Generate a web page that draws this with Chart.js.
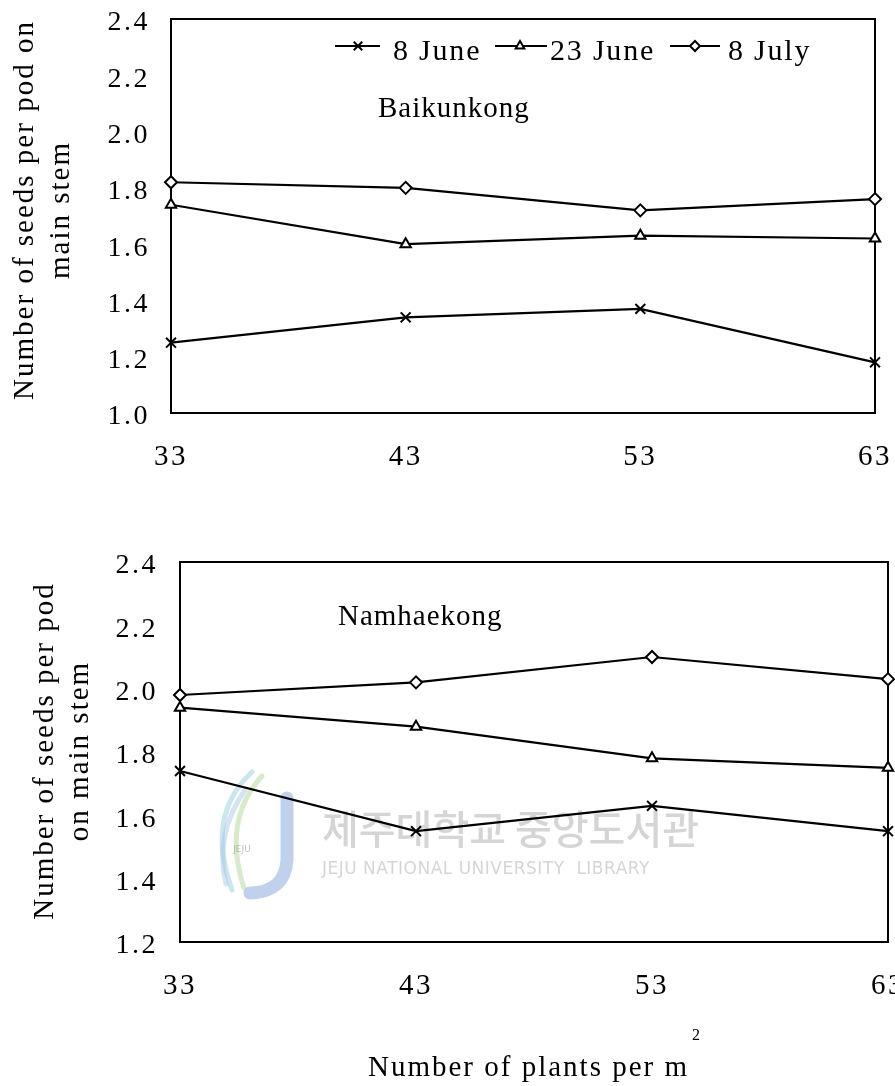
<!DOCTYPE html>
<html><head><meta charset="utf-8">
<script src="https://cdn.jsdelivr.net/npm/chart.js@4"></script>
<style>
html,body{margin:0;padding:0;background:#fff;overflow:hidden;width:895px;height:1086px;}
canvas{position:absolute;left:0;}
#c1{top:0;} #c2{top:480px;}
</style></head><body>
<canvas id="c1" width="920" height="480"></canvas>
<canvas id="c2" width="920" height="606"></canvas>
<script>
// ---- data ----
const density = [33, 43, 53, 63];
const xTicks = [33, 43, 53, 63];
const seriesNames = ['8 June', '23 June', '8 July'];
const baikJune8  = [1.25, 1.34, 1.37, 1.18];
const baikJune23 = [1.74, 1.60, 1.63, 1.62];
const baikJuly8  = [1.82, 1.80, 1.72, 1.76];
const namJune8   = [1.74, 1.55, 1.63, 1.55];
const namJune23  = [1.94, 1.88, 1.78, 1.75];
const namJuly8   = [1.98, 2.02, 2.10, 2.03];
const yTicksTop    = [1.0, 1.2, 1.4, 1.6, 1.8, 2.0, 2.2, 2.4];
const yTicksBottom = [1.2, 1.4, 1.6, 1.8, 2.0, 2.2, 2.4];
const cultivarTop = 'Baikunkong';
const cultivarBottom = 'Namhaekong';
const yTitleTop = ['Number of seeds per pod on', 'main stem'];
const yTitleBottom = ['Number of seeds per pod', 'on main stem'];
const xTitle = 'Number of plants per m';

// ---- style ----
const FONT = '"Liberation Serif", "DejaVu Serif", serif';
const markers = ['crossRot', 'triangle', 'rectRot'];
const radii = [7, 6, 6];

function setSpacing(ctx, px) { if ('letterSpacing' in ctx) ctx.letterSpacing = px + 'px'; }
function drawText(ctx, s, x, y, o) {
  ctx.save();
  ctx.font = (o.weight || 'normal') + ' ' + o.size + 'px ' + (o.family || FONT);
  ctx.fillStyle = o.color || '#000';
  ctx.textAlign = o.align || 'left';
  ctx.textBaseline = o.baseline || 'alphabetic';
  setSpacing(ctx, o.spacing || 0);
  if (o.rotate) { ctx.translate(x, y); ctx.rotate(o.rotate); ctx.fillText(s, 0, 0); }
  else ctx.fillText(s, x, y);
  ctx.restore();
}

function drawWatermark(ctx, dy) {
  ctx.save();
  ctx.translate(0, -dy);
  ctx.lineCap = 'round';
  ctx.lineWidth = 5; ctx.strokeStyle = 'rgba(150,205,225,0.5)';
  ctx.beginPath(); ctx.moveTo(252, 772); ctx.quadraticCurveTo(205, 815, 232, 890); ctx.stroke();
  ctx.strokeStyle = 'rgba(175,215,150,0.5)';
  ctx.beginPath(); ctx.moveTo(262, 776); ctx.quadraticCurveTo(222, 820, 244, 888); ctx.stroke();
  ctx.strokeStyle = 'rgba(160,195,230,0.45)';
  ctx.beginPath(); ctx.moveTo(245, 790); ctx.quadraticCurveTo(214, 835, 226, 884); ctx.stroke();
  ctx.lineWidth = 13; ctx.strokeStyle = 'rgba(165,190,228,0.7)';
  ctx.beginPath(); ctx.moveTo(287, 798); ctx.lineTo(287, 860); ctx.quadraticCurveTo(285, 892, 250, 893); ctx.stroke();
  ctx.restore();
  drawText(ctx, 'JEJU', 242, 850 - dy, {size: 9, color: 'rgba(150,150,150,0.6)', family: '"DejaVu Sans", sans-serif', align: 'center', baseline: 'middle'});
  drawText(ctx, '제주대학교 중앙도서관', 322, 829 - dy, {size: 40, color: 'rgba(185,185,185,0.6)', family: '"Noto Sans CJK KR", sans-serif', weight: '500', baseline: 'middle'});
  drawText(ctx, 'JEJU NATIONAL UNIVERSITY  LIBRARY', 322, 870 - dy, {size: 17, color: 'rgba(185,185,185,0.6)', family: '"DejaVu Sans", sans-serif', baseline: 'middle', spacing: 0.5});
}

const decor = {
  id: 'decor',
  beforeDraw(chart) { setSpacing(chart.ctx, 2.5); },
  beforeDatasetsDraw(chart, args, opts) {
    const ctx = chart.ctx, a = chart.chartArea;
    if (opts.watermark) drawWatermark(ctx, opts.dy);
    ctx.save();
    ctx.strokeStyle = '#000'; ctx.lineWidth = 2;
    ctx.beginPath(); ctx.moveTo(a.left, a.top); ctx.lineTo(a.right, a.top); ctx.lineTo(a.right, a.bottom); ctx.stroke();
    ctx.restore();
  },
  afterDraw(chart, args, opts) {
    const ctx = chart.ctx;
    opts.yTitle.forEach((line, i) => drawText(ctx, line, opts.yTitleX[i], opts.yTitleY,
      {size: 29, spacing: 2, align: 'center', baseline: 'middle', rotate: -Math.PI / 2}));
    drawText(ctx, opts.label, opts.labelX, opts.labelY, {size: 29, spacing: 1});
    if (opts.legend) {
      const items = [{x0: 335, x1: 380, mx: 358, tx: 393}, {x0: 495, x1: 547, mx: 520, tx: 550}, {x0: 670, x1: 720, mx: 695, tx: 728}];
      const ly = 46;
      items.forEach((it, i) => {
        const ds = chart.data.datasets[i];
        ctx.save();
        ctx.strokeStyle = '#000'; ctx.lineWidth = 2;
        ctx.beginPath(); ctx.moveTo(it.x0, ly); ctx.lineTo(it.x1, ly); ctx.stroke();
        ctx.fillStyle = '#fff'; ctx.strokeStyle = '#000'; ctx.lineWidth = 2;
        Chart.helpers.drawPoint(ctx, {pointStyle: ds.pointStyle, radius: ds.pointRadius - 1, rotation: 0, borderWidth: 2}, it.mx, ly);
        ctx.restore();
        drawText(ctx, ds.label, it.tx, 60, {size: 30, spacing: 1.8});
      });
    }
    if (opts.xTitle) {
      drawText(ctx, opts.xTitle, 368, 1076 - opts.dy, {size: 29, spacing: 2});
      drawText(ctx, '2', 692, 1040 - opts.dy, {size: 16});
    }
  }
};

function makeChart(id, sets, yTicks, geom, decorOpts) {
  return new Chart(document.getElementById(id), {
    type: 'line',
    data: {
      datasets: sets.map((vals, i) => ({
        label: seriesNames[i],
        data: density.map((x, j) => ({x: x, y: vals[j]})),
        borderColor: '#000', borderWidth: 2.2,
        pointStyle: markers[i], pointRadius: radii[i], pointBorderWidth: 2,
        pointBackgroundColor: '#fff', pointBorderColor: '#000',
        tension: 0, clip: false, fill: false
      }))
    },
    options: {
      responsive: false, animation: false, devicePixelRatio: 1,
      layout: {padding: {left: 0, top: geom.top, right: geom.right, bottom: 0}},
      plugins: {legend: {display: false}, tooltip: {enabled: false}, decor: decorOpts},
      scales: {
        x: {
          type: 'linear', min: xTicks[0], max: xTicks[xTicks.length - 1],
          afterBuildTicks: s => { s.ticks = xTicks.map(v => ({value: v})); },
          afterFit: s => { s.height = geom.xh; s.paddingLeft = 0; s.paddingRight = 0; },
          grid: {display: false, drawTicks: false},
          border: {display: true, color: '#000', width: 2},
          ticks: {color: '#000', font: {family: FONT, size: 29}, padding: 27, maxRotation: 0, autoSkip: false, callback: v => String(v)}
        },
        y: {
          type: 'linear', min: yTicks[0], max: yTicks[yTicks.length - 1],
          afterBuildTicks: s => { s.ticks = yTicks.map(v => ({value: v})); },
          afterFit: s => { s.width = geom.left; s.paddingTop = 0; s.paddingBottom = 0; },
          grid: {display: false, drawTicks: false},
          border: {display: true, color: '#000', width: 2},
          ticks: {color: '#000', font: {family: FONT, size: 28}, padding: geom.tp, labelOffset: 4, autoSkip: false, callback: v => Number(v).toFixed(1)}
        }
      }
    },
    plugins: [decor]
  });
}

makeChart('c1', [baikJune8, baikJune23, baikJuly8], yTicksTop,
  {left: 171, top: 19, right: 45, xh: 67, tp: 21},
  {yTitle: yTitleTop, yTitleX: [25, 61], yTitleY: 210, label: cultivarTop, labelX: 378, labelY: 117, legend: true, dy: 0});

makeChart('c2', [namJune8, namJune23, namJuly8], yTicksBottom,
  {left: 180, top: 82, right: 32, xh: 144, tp: 22},
  {yTitle: yTitleBottom, yTitleX: [45, 80], yTitleY: 271, label: cultivarBottom, labelX: 338, labelY: 145, xTitle: xTitle, watermark: true, dy: 480});
</script>
</body></html>
